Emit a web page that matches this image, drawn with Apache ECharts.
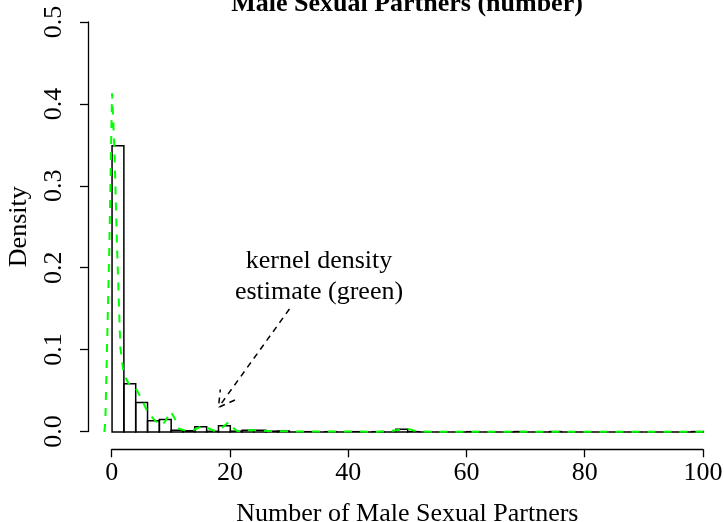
<!DOCTYPE html>
<html>
<head>
<meta charset="utf-8">
<script src="https://cdn.jsdelivr.net/npm/echarts@6/dist/echarts.min.js"></script>
<style>
html,body{margin:0;padding:0;background:#fff;}
#chart{width:724px;height:522px;}
</style>
</head>
<body>
<div id="chart"></div>
<script>
// ---- data ----
const chartTitle = "Male Sexual Partners (number)";
const xAxisTitle = "Number of Male Sexual Partners";
const yAxisTitle = "Density";
const binStarts = [0,2,4,6,8,10,12,14,16,18,20,22,24,26,28,30,32,34,36,38,40,42,44,46,48,50,52,54,56,58,60,62,64,66,68,70,72,74,76,78,80,82,84,86,88,90,92,94,96,98];
const binEnds   = [2,4,6,8,10,12,14,16,18,20,22,24,26,28,30,32,34,36,38,40,42,44,46,48,50,52,54,56,58,60,62,64,66,68,70,72,74,76,78,80,82,84,86,88,90,92,94,96,98,100];
const histDensity = [0.349,0.0588,0.036,0.0137,0.0152,0.002,0.0015,0.0065,0.0008,0.0075,
                     0.001,0.002,0.002,0.001,0.0012,0,0.0004,0,0.0004,0,
                     0.0004,0,0.0004,0,0.0035,0.0004,0,0,0,0,
                     0.0004,0,0,0,0.0005,0,0,0.0005,0,0,
                     0,0,0,0,0,0,0,0,0,0.0005];
const kdeX = [-1.3,-1.13,-0.85,-0.46,-0.17,0.0,0.14,0.39,0.85,1.4,1.96,2.8,3.9,5.0,5.9,7.0,7.6,8.3,9.0,9.9,10.5,11.3,12.3,13.2,14.3,15.4,16.4,17.5,18.6,19.7,20.5,21.2,23,25,27,29,31,35,40,45,48,49.9,51.5,54,60,65,70,75,80,85,90,95,100.3];
const kdeY = [0.0,0.014,0.103,0.225,0.347,0.413,0.414,0.347,0.225,0.103,0.071,0.059,0.055,0.040,0.026,0.016,0.012,0.008,0.013,0.025,0.018,0.004,0.002,0.001,0.004,0.008,0.004,0.001,0.005,0.012,0.005,0.001,0.002,0.002,0.001,0.001,0.0005,0.0005,0.0005,0.0004,0.002,0.004,0.001,0.0003,0.0003,0.0002,0.0003,0.0003,0.0002,0.0002,0.0002,0.0002,0.0002];
const xTicks = [0,20,40,60,80,100];
const yTicks = [0.0,0.1,0.2,0.3,0.4,0.5];
const plotXRange = [-4, 104];
const plotYRange = [-0.02, 0.52];
const annotText = ["kernel density", "estimate (green)"];
const annotTextPos = [35, 0.19];
const arrowFrom = [30, 0.15];
const arrowTo = [18, 0.03];

const FONT = "'Liberation Serif','Times New Roman',serif";
const chart = echarts.init(document.getElementById('chart'), null, {renderer:'canvas'});

const histData = binStarts.map((s,i)=>[s, binEnds[i], histDensity[i]]);
const kdeData = kdeX.map((x,i)=>[x, kdeY[i]]);

const option = {
  backgroundColor:'#fff',
  animation:false,
  grid:[
    {left:88.4, top:5.6, width:638.6, height:442.8, containLabel:false, outerBoundsMode:'none'},
    {left:111.7, right:21, top:22, bottom:90.5, containLabel:false, outerBoundsMode:'none'}
  ],
  xAxis:[
    {gridIndex:0, type:'value', min:plotXRange[0], max:plotXRange[1], show:false},
    {
      gridIndex:1, type:'value', min:0, max:100, interval:20, offset:17.8,
      axisLine:{show:true, onZero:false, lineStyle:{color:'#000', width:1.3}},
      axisTick:{show:true, length:8, lineStyle:{color:'#000', width:1.3}},
      axisLabel:{color:'#000', fontFamily:FONT, fontSize:26, margin:11,
        formatter:v=> xTicks.includes(v) ? String(v) : ''},
      splitLine:{show:false},
      name:xAxisTitle, nameLocation:'middle', nameGap:52,
      nameTextStyle:{color:'#000', fontFamily:FONT, fontSize:26}
    }
  ],
  yAxis:[
    {gridIndex:0, type:'value', min:plotYRange[0], max:plotYRange[1], show:false},
    {
      gridIndex:1, type:'value', min:0, max:0.5, interval:0.1, offset:23.7,
      axisLine:{show:true, onZero:false, lineStyle:{color:'#000', width:1.3}},
      axisTick:{show:true, length:8, lineStyle:{color:'#000', width:1.3}},
      axisLabel:{color:'#000', fontFamily:FONT, fontSize:26, margin:21, rotate:90,
        formatter:v=>{ const t = yTicks.find(y=>Math.abs(y-v)<1e-9); return t===undefined?'':t.toFixed(1);} },
      splitLine:{show:false},
      name:yAxisTitle, nameLocation:'middle', nameGap:56, nameRotate:90,
      nameTextStyle:{color:'#000', fontFamily:FONT, fontSize:26}
    }
  ],
  graphic:[{
    type:'text', x:407, y:4,
    style:{text:chartTitle, x:0, y:0, align:'center', verticalAlign:'middle',
      font:"bold 26px "+FONT, fill:'#000'}
  }],
  series:[
    {
      type:'custom', name:'hist', data:histData, encode:{x:[0,1], y:2},
      xAxisIndex:0, yAxisIndex:0, clip:false,
      renderItem:(params, api)=>{
        const p0 = api.coord([api.value(0), 0]);
        const p1 = api.coord([api.value(1), api.value(2)]);
        return {type:'rect', shape:{x:p0[0], y:p1[1], width:p1[0]-p0[0], height:p0[1]-p1[1]},
          style:{fill:'rgba(0,0,0,0)', stroke:'#000', lineWidth:1.5}};
      },
      z:2
    },
    {
      type:'line', name:'kde', data:kdeData, xAxisIndex:0, yAxisIndex:0,
      showSymbol:false, symbol:'none', clip:false,
      lineStyle:{color:'#00ff00', width:2, type:[8,8]}, z:3
    },
    {
      type:'custom', name:'arrow', data:[[arrowFrom[0], arrowFrom[1], arrowTo[0], arrowTo[1]]],
      xAxisIndex:0, yAxisIndex:0, encode:{x:[0,2], y:[1,3]}, clip:false,
      renderItem:(params, api)=>{
        const s = api.coord([api.value(0), api.value(1)]);
        const e = api.coord([api.value(2), api.value(3)]);
        const ang = Math.atan2(s[1]-e[1], s[0]-e[0]);
        const L = 18, a = Math.PI/6;
        const h1 = [e[0]+L*Math.cos(ang+a), e[1]+L*Math.sin(ang+a)];
        const h2 = [e[0]+L*Math.cos(ang-a), e[1]+L*Math.sin(ang-a)];
        const st = {stroke:'#000', lineWidth:1.5, lineDash:[6,5], fill:null};
        return {type:'group', children:[
          {type:'line', shape:{x1:s[0], y1:s[1], x2:e[0], y2:e[1]}, style:st},
          {type:'polyline', shape:{points:[h1, e, h2]}, style:st}
        ]};
      },
      z:4
    },
    {
      type:'custom', name:'annot', data:[[annotTextPos[0], annotTextPos[1]]],
      xAxisIndex:0, yAxisIndex:0, encode:{x:0, y:1}, clip:false,
      renderItem:(params, api)=>{
        const p = api.coord([api.value(0), api.value(1)]);
        return {type:'text', x:p[0], y:p[1], style:{text:annotText.join('\n'), align:'center', verticalAlign:'middle',
          font:"26px "+FONT, lineHeight:31, fill:'#000'}};
      },
      z:5
    }
  ]
};
chart.setOption(option);
</script>
</body>
</html>
